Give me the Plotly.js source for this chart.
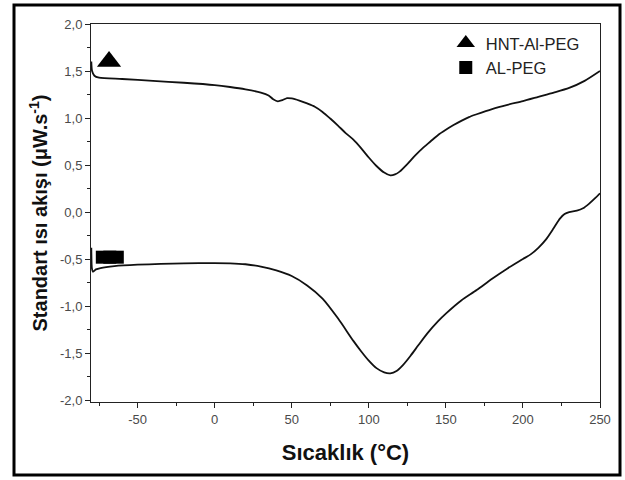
<!DOCTYPE html>
<html>
<head>
<meta charset="utf-8">
<script src="https://cdn.plot.ly/plotly-3.0.1.min.js"></script>
<style>
  html, body { margin: 0; padding: 0; background: #ffffff; }
  #chart { width: 625px; height: 480px; }
</style>
</head>
<body>
<div id="chart"></div>
<script>
// HNT-Al-PEG curve (temperature °C, heat flow)
const hntTemp = [-80, -79.5, -78, -75, -60, -40, -20, 0, 10, 20, 30, 35, 38, 41, 44, 47, 50, 55, 60, 65, 70, 75, 80, 85, 90, 95, 100, 105, 110, 114, 117, 120, 125, 130, 135, 140, 145, 150, 155, 160, 165, 170, 180, 190, 200, 210, 220, 230, 240, 250];
const hntFlow = [1.60, 1.50, 1.45, 1.43, 1.415, 1.395, 1.375, 1.35, 1.33, 1.305, 1.27, 1.24, 1.20, 1.178, 1.19, 1.212, 1.208, 1.185, 1.155, 1.12, 1.065, 0.995, 0.92, 0.84, 0.77, 0.68, 0.58, 0.49, 0.42, 0.39, 0.40, 0.43, 0.51, 0.60, 0.68, 0.75, 0.82, 0.875, 0.925, 0.97, 1.01, 1.04, 1.095, 1.14, 1.18, 1.225, 1.27, 1.32, 1.395, 1.50];

// AL-PEG curve
const alTemp = [-80, -79.6, -79, -77, -74, -65, -50, -35, -20, 0, 10, 20, 30, 40, 50, 60, 70, 80, 90, 95, 100, 105, 110, 114, 118, 122, 127, 132, 138, 145, 150, 160, 170, 180, 190, 200, 205, 210, 215, 220, 224, 227, 230, 235, 239, 243, 247, 250];
const alFlow = [-0.38, -0.60, -0.635, -0.61, -0.595, -0.575, -0.56, -0.552, -0.546, -0.543, -0.545, -0.555, -0.58, -0.62, -0.68, -0.78, -0.92, -1.13, -1.37, -1.48, -1.58, -1.66, -1.705, -1.715, -1.69, -1.63, -1.53, -1.42, -1.29, -1.16, -1.08, -0.94, -0.83, -0.71, -0.60, -0.50, -0.45, -0.38, -0.29, -0.17, -0.07, -0.02, 0.0, 0.015, 0.04, 0.09, 0.15, 0.20];

// Series labels and their in-plot label marker positions
const seriesNames = ["HNT-Al-PEG", "AL-PEG"];
const labelTemp = [-68.5, -68];
const labelFlow = [1.60, -0.48];

// Axis ticks
const xTicks = [-50, 0, 50, 100, 150, 200, 250];
const xTickText = ["-50", "0", "50", "100", "150", "200", "250"];
const yTicks = [-2.0, -1.5, -1.0, -0.5, 0.0, 0.5, 1.0, 1.5, 2.0];
const yTickText = ["-2,0", "-1,5", "-1,0", "-0,5", "0,0", "0,5", "1,0", "1,5", "2,0"];

const lineStyle = { color: '#111111', width: 1.8, shape: 'spline', smoothing: 0.7 };
const FONT = 'Arial, "Liberation Sans", sans-serif';

const traces = [
  { x: hntTemp, y: hntFlow, mode: 'lines', line: lineStyle, showlegend: false, hoverinfo: 'skip' },
  { x: alTemp, y: alFlow, mode: 'lines', line: lineStyle, showlegend: false, hoverinfo: 'skip' },
  { x: [labelTemp[0]], y: [labelFlow[0]], name: seriesNames[0], mode: 'markers',
    marker: { symbol: 'triangle-up', size: 21, color: '#000000' } },
  { x: [labelTemp[1]], y: [labelFlow[1]], name: seriesNames[1], mode: 'markers',
    marker: { symbol: 'square', size: 13, color: '#000000' } },
  { x: [labelTemp[1]], y: [labelFlow[1]], mode: 'markers', showlegend: false,
    marker: { symbol: 'line-ew', size: 20, color: '#000000', line: { color: '#000000', width: 13 } } }
];

// plot area in pixels: x 91..600, y 24..402
const pw = 509, ph = 378;
function px(p) { return (p - 91) / pw; }
function py(p) { return (402 - p) / ph; }

const layout = {
  width: 625, height: 480,
  margin: { l: 91, r: 25, t: 24, b: 78 },
  paper_bgcolor: '#ffffff', plot_bgcolor: '#ffffff',
  font: { family: FONT, color: '#444444', size: 13 },
  xaxis: {
    range: [-80.2, 250], tickmode: 'array', tickvals: xTicks, ticktext: xTickText,
    ticks: 'outside', ticklen: 5, tickcolor: '#222',
    showline: true, linecolor: '#222', linewidth: 1, mirror: true, showgrid: false, zeroline: false,
    minor: { dtick: 25, tick0: 0, ticks: 'outside', ticklen: 3, tickcolor: '#222', showgrid: false },
    tickfont: { size: 13, color: '#4a4a4a' },
    title: { text: 'Sıcaklık (°C)', font: { size: 22, color: '#111', family: FONT, weight: 'bold' }, standoff: 19 }
  },
  yaxis: {
    range: [-2.02, 2.0], tickmode: 'array', tickvals: yTicks, ticktext: yTickText,
    ticks: 'outside', ticklen: 5, tickcolor: '#222',
    showline: true, linecolor: '#222', linewidth: 1, mirror: true, showgrid: false, zeroline: false,
    minor: { dtick: 0.25, tick0: 0, ticks: 'outside', ticklen: 3, tickcolor: '#222', showgrid: false },
    tickfont: { size: 13, color: '#4a4a4a' },
    title: { text: 'Standart ısı akışı (μW.s<sup>-1</sup>)', font: { size: 20, color: '#111', family: FONT, weight: 'bold' }, standoff: 6 }
  },
  legend: {
    x: 0.697, y: 0.995, xanchor: 'left', yanchor: 'top',
    bgcolor: 'rgba(0,0,0,0)', borderwidth: 0,
    font: { size: 16.5, color: '#222' }, tracegroupgap: 0, itemwidth: 30
  },
  shapes: [
    { type: 'rect', xref: 'paper', yref: 'paper', x0: px(14), x1: px(620), y0: py(475), y1: py(5),
      line: { color: '#000000', width: 3 }, fillcolor: 'rgba(0,0,0,0)', layer: 'above' }
  ]
};

Plotly.newPlot('chart', traces, layout, { staticPlot: true, displayModeBar: false });
</script>
</body>
</html>
